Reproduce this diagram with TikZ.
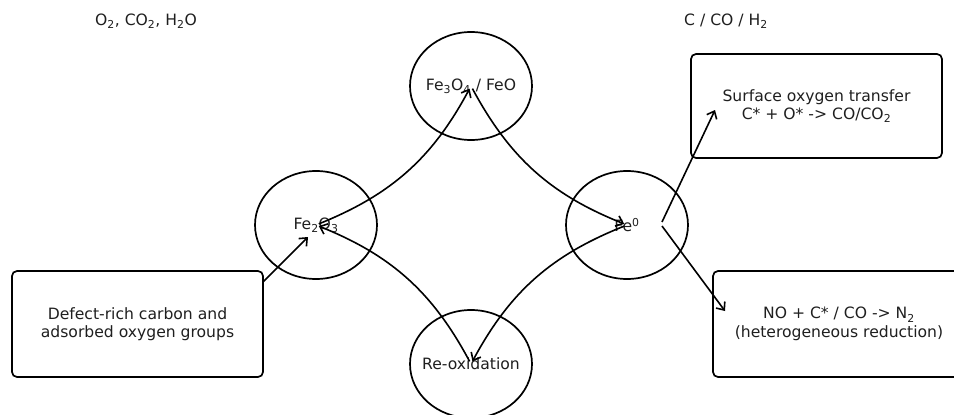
\documentclass[tikz,border=0pt]{standalone}
\usepackage{fontspec}
\setmainfont{DejaVu Sans}
\usetikzlibrary{shapes.geometric,arrows.meta}
\begin{document}
\begin{tikzpicture}[x=1pt,y=-1pt,
  every node/.style={font=\fontsize{15.6}{18.5}\selectfont, text=black!88},
  every label/.style={font=\fontsize{15.6}{18.5}\selectfont, text=black!88},
  phase/.style={ellipse, draw, line width=1.7pt, minimum width=122pt, minimum height=108pt, inner sep=0pt, label={center:#1}},
  infobox/.style={draw, line width=1.7pt, rounded corners=5pt, align=center, inner sep=0pt},
  flow/.style={line width=1.6pt, -{Straight Barb[length=6.5pt,width=11pt,line width=1.6pt]}, shorten <=3pt, shorten >=3pt},
  link/.style={line width=1.6pt, -{Straight Barb[length=6.5pt,width=11pt,line width=1.6pt]}}
]
\clip (0,0) rectangle (954,415);
\fill[white] (0,0) rectangle (954,415);
% phases
\node[phase={Fe\textsubscript{2}O\textsubscript{3}}] (fe2o3) at (316,225) {};
\node[phase={Fe\textsubscript{3}O\textsubscript{4} / FeO}] (fe3o4) at (471,86) {};
\node[phase={Fe\textsuperscript{0}}] (fe0) at (627,225) {};
\node[phase={Re-oxidation}] (reox) at (471,364) {};
% boxes
\node[infobox, minimum width=251pt, minimum height=104pt] (surf) at (816.5,106) {Surface oxygen transfer\\C* + O* -> CO/CO\textsubscript{2}};
\node[infobox, minimum width=252pt, minimum height=106pt] (no) at (839,324) {NO + C* / CO -> N\textsubscript{2}\\(heterogeneous reduction)};
\node[infobox, minimum width=251pt, minimum height=106pt] (defect) at (137.5,324) {Defect-rich carbon and\\adsorbed oxygen groups};
% top labels
\node (ox) at (146,21) {O\textsubscript{2}, CO\textsubscript{2}, H\textsubscript{2}O};
\node (red) at (726,21) {C / CO / H\textsubscript{2}};
% cycle
\draw[flow] (fe2o3.center) to[bend right=20] (fe3o4.center);
\draw[flow] (fe3o4.center) to[bend right=20] (fe0.center);
\draw[flow] (fe0.center) to[bend right=20] (reox.center);
\draw[flow] (reox.center) to[bend right=20] (fe2o3.center);
% side links
\coordinate (dstart) at (263,282);
\coordinate (dend) at (308,237);
\draw[link] (dstart) -- (dend);
\coordinate (s1) at (662,222);
\coordinate (e1) at (715,110);
\draw[link] (s1) -- (e1);
\coordinate (s2) at (662,226);
\coordinate (e2) at (725,311);
\draw[link] (s2) -- (e2);
\end{tikzpicture}
\end{document}
